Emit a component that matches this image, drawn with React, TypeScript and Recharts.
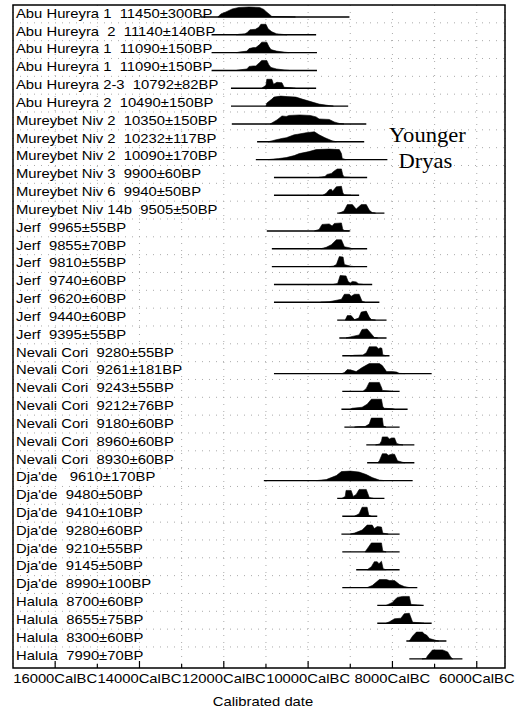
import React from 'react';
import { ComposedChart, XAxis, YAxis, CartesianGrid, Area, Line, ReferenceArea, ReferenceDot } from 'recharts';

// sample labels, top to bottom
const labels = [
  'Abu Hureyra 1  11450±300BP',
  'Abu Hureyra  2  11140±140BP',
  'Abu Hureyra 1  11090±150BP',
  'Abu Hureyra 1  11090±150BP',
  'Abu Hureyra 2-3  10792±82BP',
  'Abu Hureyra 2  10490±150BP',
  'Mureybet Niv 2  10350±150BP',
  'Mureybet Niv 2  10232±117BP',
  'Mureybet Niv 2  10090±170BP',
  'Mureybet Niv 3  9900±60BP',
  'Mureybet Niv 6  9940±50BP',
  'Mureybet Niv 14b  9505±50BP',
  'Jerf  9965±55BP',
  'Jerf  9855±70BP',
  'Jerf  9810±55BP',
  'Jerf  9740±60BP',
  'Jerf  9620±60BP',
  'Jerf  9440±60BP',
  'Jerf  9395±55BP',
  'Nevali Cori  9280±55BP',
  'Nevali Cori  9261±181BP',
  'Nevali Cori  9243±55BP',
  'Nevali Cori  9212±76BP',
  'Nevali Cori  9180±60BP',
  'Nevali Cori  8960±60BP',
  'Nevali Cori  8930±60BP',
  "Dja'de   9610±170BP",
  "Dja'de  9480±50BP",
  "Dja'de  9410±10BP",
  "Dja'de  9280±60BP",
  "Dja'de  9210±55BP",
  "Dja'de  9145±50BP",
  "Dja'de  8990±100BP",
  'Halula  8700±60BP',
  'Halula  8655±75BP',
  'Halula  8300±60BP',
  'Halula  7990±70BP',
];

// calibrated range of each sample, years cal BC [from, to]
const ranges: [number, number][] = [
  [12550, 9020], [12290, 9810], [12290, 9790], [12290, 9790], [11830, 9810],
  [11830, 9050], [11810, 8620], [11210, 8670], [11240, 8120], [10810, 8600],
  [10810, 8790], [9310, 8190], [10980, 9020], [10860, 8600], [10860, 8600],
  [10810, 8480], [10810, 8310], [9310, 8140], [9260, 8140], [9190, 8070],
  [10810, 7070], [9190, 7830], [9210, 7640], [9140, 7830], [8620, 7480],
  [8600, 7480], [11050, 7520], [9310, 8190], [9190, 8360], [9210, 7830],
  [9190, 7830], [8860, 7830], [9190, 7410], [8360, 7260], [8360, 7070],
  [7670, 6720], [7600, 6340],
];

// probability distributions, [year cal BC, relative probability]
const densities: [number, number][][] = [
  [[12140, 0], [12070, 0.3], [11950, 0.5], [11800, 0.8], [11640, 0.95], [11400, 1.0], [11150, 0.95], [11050, 0.75], [11000, 0.55], [10900, 0.2], [10860, 0.05], [10500, 0.02], [10300, 0]],
  [[11700, 0], [11640, 0.05], [11500, 0.1], [11450, 0.2], [11380, 0.5], [11250, 0.55], [11170, 0.75], [11120, 1.05], [11000, 1.05], [10950, 0.6], [10860, 0.3], [10750, 0.1], [10640, 0.05], [10500, 0]],
  [[11700, 0], [11640, 0.05], [11450, 0.15], [11400, 0.4], [11300, 0.5], [11240, 0.5], [11150, 0.8], [11100, 1.05], [10980, 1.05], [10930, 0.6], [10880, 0.3], [10750, 0.15], [10570, 0.05], [10450, 0]],
  [[11700, 0], [11640, 0.05], [11450, 0.15], [11400, 0.4], [11300, 0.45], [11240, 0.45], [11150, 0.8], [11100, 1.0], [10980, 1.0], [10930, 0.55], [10880, 0.3], [10750, 0.15], [10570, 0.05], [10450, 0]],
  [[11100, 0], [11000, 0.3], [10980, 0.9], [10860, 0.9], [10820, 0.4], [10740, 0.6], [10620, 0.55], [10570, 0.1], [10400, 0.05], [10300, 0]],
  [[11000, 0], [10980, 0.3], [10860, 0.7], [10810, 0.9], [10650, 1.0], [10500, 0.95], [10290, 0.9], [10140, 0.7], [9900, 0.4], [9740, 0.2], [9500, 0.05], [9400, 0]],
  [[10900, 0], [10860, 0.1], [10740, 0.4], [10620, 0.8], [10520, 0.75], [10450, 0.85], [10200, 0.9], [9950, 0.85], [9810, 0.7], [9740, 0.5], [9500, 0.45], [9380, 0.2], [9260, 0.05], [9150, 0]],
  [[10950, 0], [10850, 0.1], [10760, 0.2], [10600, 0.35], [10520, 0.4], [10330, 0.7], [10250, 0.75], [10050, 0.9], [9850, 1.0], [9740, 0.7], [9600, 0.4], [9430, 0.1], [9330, 0]],
  [[10950, 0], [10700, 0.1], [10520, 0.2], [10330, 0.4], [10210, 0.6], [9980, 0.8], [9810, 1.0], [9500, 1.05], [9260, 1.0], [9210, 0.6], [9190, 0.1], [9100, 0]],
  [[9750, 0], [9600, 0.1], [9550, 0.3], [9450, 0.4], [9380, 0.65], [9310, 0.85], [9210, 0.85], [9180, 0.3], [9150, 0.05], [9000, 0]],
  [[9650, 0], [9570, 0.2], [9500, 0.55], [9450, 0.6], [9420, 0.4], [9330, 0.85], [9210, 0.9], [9180, 0.3], [9150, 0.05], [9000, 0]],
  [[9260, 0], [9150, 0.2], [9070, 0.85], [8950, 0.85], [8860, 0.4], [8740, 0.85], [8620, 0.85], [8550, 0.3], [8480, 0.05], [8400, 0]],
  [[9850, 0], [9740, 0.15], [9670, 0.65], [9500, 0.7], [9430, 0.5], [9380, 0.75], [9210, 0.8], [9180, 0.2], [9150, 0.05], [9000, 0]],
  [[9700, 0], [9570, 0.15], [9450, 0.4], [9330, 0.9], [9210, 0.9], [9140, 0.2], [9000, 0.08], [8950, 0]],
  [[9500, 0], [9400, 0.05], [9330, 0.2], [9260, 1.0], [9170, 0.95], [9140, 0.2], [9000, 0.05], [8900, 0]],
  [[9400, 0], [9300, 0.1], [9240, 0.9], [9100, 0.85], [9050, 0.3], [9000, 0.15], [8950, 0.3], [8860, 0.25], [8800, 0.05], [8700, 0]],
  [[9700, 0], [9500, 0.05], [9210, 0.3], [9140, 0.8], [9020, 0.8], [8980, 0.6], [8900, 0.8], [8790, 0.8], [8720, 0.1], [8650, 0]],
  [[9120, 0], [9070, 0.45], [8980, 0.45], [8900, 0.05], [8800, 0.2], [8740, 0.8], [8620, 0.9], [8550, 0.3], [8500, 0.05], [8400, 0]],
  [[9100, 0], [9000, 0.1], [8790, 0.3], [8720, 0.85], [8600, 0.9], [8500, 0.4], [8430, 0.05], [8350, 0]],
  [[9000, 0], [8900, 0.05], [8700, 0.08], [8620, 0.3], [8550, 0.9], [8380, 0.9], [8330, 0.7], [8290, 0.8], [8250, 0.75], [8230, 0.1], [8150, 0]],
  [[9200, 0], [9140, 0.1], [9070, 0.4], [8980, 0.35], [8860, 0.2], [8720, 0.6], [8550, 1.0], [8310, 1.0], [8240, 0.8], [8140, 0.2], [8000, 0.2], [7900, 0.15], [7830, 0.02], [7700, 0]],
  [[8700, 0], [8620, 0.3], [8550, 0.9], [8310, 0.9], [8250, 0.3], [8240, 0.1], [8070, 0.05], [8000, 0]],
  [[9000, 0], [8950, 0.1], [8720, 0.2], [8600, 0.5], [8500, 1.0], [8260, 1.0], [8230, 0.3], [8200, 0.1], [8000, 0.05], [7950, 0]],
  [[8900, 0], [8800, 0.05], [8650, 0.05], [8550, 0.3], [8500, 0.9], [8240, 0.9], [8215, 0.1], [8150, 0]],
  [[8400, 0], [8300, 0.1], [8260, 0.4], [8240, 0.8], [8120, 0.8], [8070, 0.6], [8020, 0.7], [7950, 0.7], [7900, 0.15], [7830, 0.05], [7750, 0]],
  [[8350, 0], [8310, 0.2], [8240, 0.9], [8140, 0.9], [8100, 0.75], [8020, 0.85], [7950, 0.85], [7880, 0.2], [7760, 0.05], [7700, 0]],
  [[9800, 0], [9570, 0.1], [9330, 0.5], [9210, 0.9], [9000, 0.95], [8790, 0.85], [8620, 0.6], [8480, 0.3], [8310, 0.05], [8200, 0]],
  [[9200, 0], [9120, 0.2], [9100, 0.8], [8980, 0.8], [8930, 0.2], [8860, 0.4], [8790, 0.9], [8620, 0.9], [8550, 0.1], [8450, 0]],
  [[8900, 0], [8790, 0.25], [8720, 0.9], [8600, 0.9], [8560, 0.1], [8500, 0]],
  [[9000, 0], [8900, 0.1], [8720, 0.4], [8600, 0.9], [8480, 0.9], [8430, 0.55], [8360, 0.75], [8260, 0.7], [8230, 0.1], [8100, 0]],
  [[8650, 0], [8600, 0.3], [8500, 0.9], [8260, 0.9], [8230, 0.1], [8150, 0]],
  [[8600, 0], [8500, 0.3], [8430, 0.8], [8360, 0.8], [8320, 0.6], [8260, 0.85], [8220, 0.1], [8150, 0]],
  [[8600, 0], [8480, 0.2], [8310, 0.8], [8140, 0.8], [8070, 0.7], [7950, 0.7], [7830, 0.3], [7720, 0.1], [7600, 0]],
  [[8150, 0], [8000, 0.3], [7950, 0.55], [7880, 0.8], [7760, 0.9], [7600, 0.9], [7560, 0.1], [7400, 0.05], [7300, 0]],
  [[8150, 0], [8070, 0.15], [7950, 0.45], [7800, 0.5], [7720, 0.95], [7600, 1.0], [7520, 0.1], [7350, 0.05], [7250, 0]],
  [[7600, 0], [7520, 0.5], [7430, 0.9], [7290, 0.9], [7240, 0.7], [7190, 0.6], [7120, 0.25], [6950, 0.05], [6900, 0]],
  [[7300, 0], [7200, 0.05], [7170, 0.3], [7050, 0.9], [6810, 0.9], [6690, 0.7], [6620, 0.2], [6570, 0]],
];

const xTicks = [-16000, -15000, -14000, -13000, -12000, -11000, -10000, -9000, -8000, -7000, -6000];
const noteLines = ['Younger', 'Dryas'];

const X_MIN = -17000;
const X_MAX = -5330;
const Y_MAX = 37.18;
const BASE = 0.67; // baseline offset inside a row
const LABEL = 0.6;
const PEAK = 0.56;
const SANS = '"Liberation Sans", Arial, Helvetica, sans-serif';
const SERIF = '"Liberation Serif", "Times New Roman", serif';

const labelTicks = labels.map((_, i) => i + LABEL);
const gridRows = labels.slice(1).map((_, i) => i + 1);

// the scan is a bit wider than tall, so text gets stretched sideways
function WideText({ x, y, children, size = 13, anchor = 'start', family = SANS, sx = 1.14 }: any) {
  return (
    <text
      transform={`translate(${x},${y}) scale(${sx},1)`}
      fontSize={size}
      fontFamily={family}
      textAnchor={anchor}
      fill="#000"
      style={{ whiteSpace: 'pre' }}
    >
      {children}
    </text>
  );
}

const XTick = (props: any) => {
  const { x, y, payload } = props;
  const major = payload.value % 2000 === 0;
  return (
    <g>
      <line x1={x} x2={x} y1={y} y2={y - (major ? 7 : 4)} stroke="#000" strokeWidth={1.2} />
      {major && (
        <WideText x={x} y={y + 15} anchor="middle">
          {`${Math.abs(payload.value)}CalBC`}
        </WideText>
      )}
    </g>
  );
};

const RowLabel = (props: any) => {
  const { x, y, payload } = props;
  const i = Math.round(payload.value - LABEL);
  return <WideText x={x + 3} y={y + 2}>{labels[i]}</WideText>;
};

const AxisTitle = (props: any) => {
  const vb = props.viewBox || {};
  return (
    <WideText x={vb.x + vb.width / 2 + 4} y={vb.y + 38} anchor="middle">
      Calibrated date
    </WideText>
  );
};

const NoteLabel = (props: any) => {
  const vb = props.viewBox || {};
  return (
    <g>
      <WideText x={vb.x} y={vb.y} size={20} family={SERIF} sx={1.13} anchor="middle">{noteLines[0]}</WideText>
      <WideText x={vb.x - 2} y={vb.y + 26} size={20} family={SERIF} sx={1.13} anchor="middle">{noteLines[1]}</WideText>
    </g>
  );
};

export default function App() {
  return (
    <div style={{ position: 'absolute', left: 0, top: 0, width: 517, height: 717, background: '#fff' }}>
      <ComposedChart width={517} height={717} margin={{ top: 5, right: 12, bottom: 0, left: 12 }}>
        <CartesianGrid stroke="#aaa" strokeDasharray="1 6" horizontalValues={gridRows} />
        <XAxis
          type="number"
          dataKey="x"
          domain={[X_MIN, X_MAX]}
          allowDataOverflow
          ticks={xTicks}
          interval={0}
          tick={<XTick />}
          tickLine={false}
          axisLine={false}
          tickSize={0}
          tickMargin={0}
          height={49}
          label={<AxisTitle />}
        />
        <YAxis
          type="number"
          domain={[0, Y_MAX]}
          reversed
          allowDataOverflow
          ticks={labelTicks}
          interval={0}
          tick={<RowLabel />}
          tickLine={false}
          axisLine={false}
          tickSize={0}
          tickMargin={0}
          width={1}
        />
        {ranges.map(([from, to], i) => (
          <Line
            key={`r${i}`}
            data={[{ x: -from, y: i + BASE }, { x: -to, y: i + BASE }]}
            dataKey="y"
            stroke="#000"
            strokeWidth={1.4}
            dot={false}
            activeDot={false}
            isAnimationActive={false}
          />
        ))}
        {densities.map((pts, i) => (
          <Area
            key={`d${i}`}
            type="linear"
            data={pts.map(([bc, p]) => ({ x: -bc, y: [i + BASE - p * PEAK, i + BASE] }))}
            dataKey="y"
            stroke="#000"
            strokeWidth={0.6}
            fill="#000"
            fillOpacity={1}
            dot={false}
            activeDot={false}
            isAnimationActive={false}
          />
        ))}
        <ReferenceDot x={-7170} y={7.68} r={0} fill="none" stroke="none" label={<NoteLabel />} />
        <ReferenceArea x1={X_MIN} x2={X_MAX} y1={0} y2={Y_MAX} fill="none" stroke="#000" strokeWidth={1.5} />
      </ComposedChart>
    </div>
  );
}
